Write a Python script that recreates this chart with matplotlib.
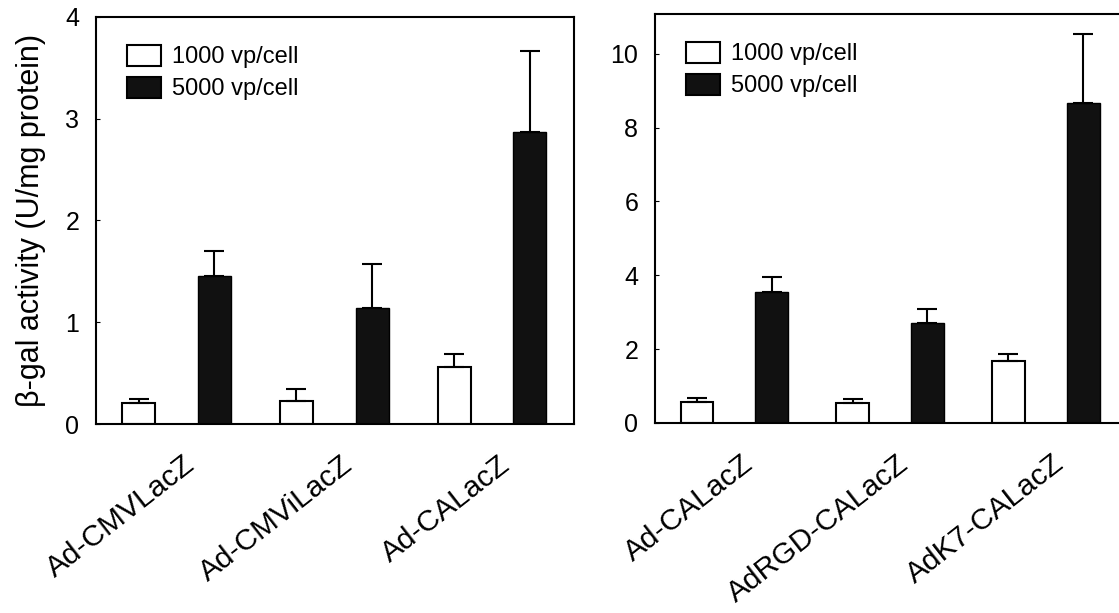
import matplotlib.pyplot as plt
import numpy as np

plt.rcParams['font.family'] = ['Liberation Sans', 'DejaVu Sans']

LEFT_NAMES = ['Ad-CMVLacZ', 'Ad-CMViLacZ', 'Ad-CALacZ']
LEFT_1000 = [0.21, 0.23, 0.56]
LEFT_1000_ERR = [0.04, 0.11, 0.13]
LEFT_5000 = [1.45, 1.14, 2.87]
LEFT_5000_ERR = [0.25, 0.43, 0.80]

RIGHT_NAMES = ['Ad-CALacZ', 'AdRGD-CALacZ', 'AdK7-CALacZ']
RIGHT_1000 = [0.57, 0.54, 1.68]
RIGHT_1000_ERR = [0.11, 0.11, 0.18]
RIGHT_5000 = [3.54, 2.70, 8.68]
RIGHT_5000_ERR = [0.41, 0.40, 1.86]

LEGEND_LABELS = ['1000 vp/cell', '5000 vp/cell']


def panel(ax, names, v1, e1, v2, e2, ymax, yticks, xmax):
    x = np.arange(len(names))
    w = 0.21
    ax.bar(x - 0.24, v1, w, color='white', edgecolor='black', linewidth=1.5,
           yerr=[np.zeros(len(e1)), e1], capsize=7,
           error_kw=dict(elinewidth=1.5, capthick=1.5), label=LEGEND_LABELS[0], zorder=2)
    ax.bar(x + 0.24, v2, w, color='#111111', edgecolor='black', linewidth=1.0,
           yerr=[np.zeros(len(e2)), e2], capsize=7,
           error_kw=dict(elinewidth=1.5, capthick=1.5), label=LEGEND_LABELS[1], zorder=2)
    ax.set_xlim(-0.51, xmax)
    ax.set_ylim(0, ymax)
    ax.set_yticks(yticks)
    ax.set_xticks(x + 0.04)
    ax.set_xticklabels(names, rotation=38, ha='right', rotation_mode='anchor', fontsize=21.5)
    ax.tick_params(axis='x', length=0, pad=19)
    ax.tick_params(axis='y', direction='in', length=3, width=0.8, labelsize=18, pad=12)
    for s in ax.spines.values():
        s.set_linewidth(1.5)
    leg = ax.legend(loc='upper left', bbox_to_anchor=(0.045, 0.955), frameon=False,
                    fontsize=17, handlelength=1.45, handleheight=1.0,
                    handletextpad=0.45, labelspacing=0.35, borderaxespad=0)
    for h in leg.legend_handles:
        h.set_linewidth(1.5)


fig = plt.figure(figsize=(11.19, 6.13), dpi=100)
ax1 = fig.add_axes([0.0858, 0.3083, 0.4272, 0.664])
ax2 = fig.add_axes([0.5853, 0.3100, 0.4272, 0.6672])

panel(ax1, LEFT_NAMES, LEFT_1000, LEFT_1000_ERR, LEFT_5000, LEFT_5000_ERR,
      4.0, [0, 1, 2, 3, 4], 2.52)
panel(ax2, RIGHT_NAMES, RIGHT_1000, RIGHT_1000_ERR, RIGHT_5000, RIGHT_5000_ERR,
      11.08, [0, 2, 4, 6, 8, 10], 2.56)

ax1.set_ylabel('β-gal activity (U/mg protein)', fontsize=22, labelpad=14)

fig.savefig('out.png', dpi=100)
